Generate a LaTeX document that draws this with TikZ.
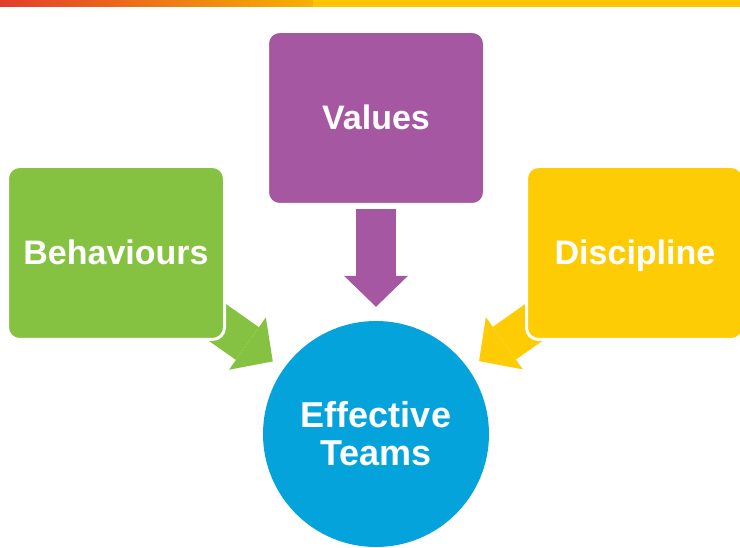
\documentclass[tikz,border=0pt]{standalone}
\usepackage{fontspec}
\setmainfont{Liberation Sans}
\usetikzlibrary{arrows.meta,backgrounds}
\definecolor{barred}{RGB}{228,60,44}
\definecolor{baramber}{RGB}{247,178,0}
\definecolor{baryellow}{RGB}{253,196,0}
\definecolor{behgreen}{RGB}{133,194,65}
\definecolor{valpurple}{RGB}{166,87,161}
\definecolor{disyellow}{RGB}{254,204,5}
\definecolor{teamblue}{RGB}{5,163,220}

\begin{document}
\begin{tikzpicture}[x=1pt, y=1pt,
				every node/.style = {text=white, inner sep=0pt, align=center,
					font=\fontsize{34}{38}\selectfont\bfseries},
				box/.style = {rectangle, rounded corners=12pt, draw=white, line width=3pt,
					minimum width=217pt, minimum height=173pt, text height=25pt, text depth=1pt},
				flow/.style = {line width=40pt, -{Triangle[length=31pt, width=64pt, line width=0pt]}}
				]
				\useasboundingbox (0,0) rectangle (740,547);
				\shade[left color=barred, right color=baramber] (0,540) rectangle (313,547);
				\fill[baryellow] (313,540) rectangle (740,547);
				\node[box, fill=behgreen] (beh) at (116,294) {Behaviours};
				\node[box, fill=valpurple] (val) at (376,429) {Values};
				\node[box, fill=disyellow] (dis) at (635,294) {Discipline};
				\node[circle, fill=teamblue, minimum size=226pt,
					font=\fontsize{36}{38}\selectfont\bfseries] (team) at (376,113) {Effective\\Teams};
				\begin{scope}[on background layer]
				\draw[flow, valpurple] ([yshift=-3pt]val.south) -- ([yshift=14pt]team.north);
				\draw[flow, behgreen, shorten >=13pt] ([shift={(-32pt,35pt)}]beh.south east) -- (team);
				\draw[flow, disyellow, shorten >=13pt] ([shift={(32pt,35pt)}]dis.south west) -- (team);
				\end{scope}
\end{tikzpicture}
\end{document}
